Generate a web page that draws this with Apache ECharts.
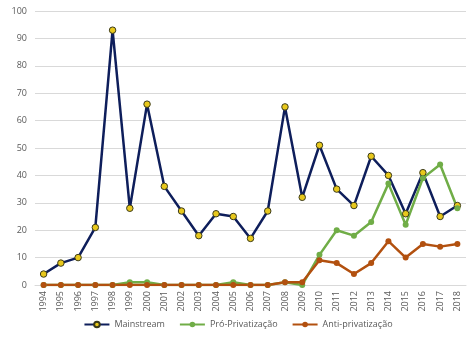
<!DOCTYPE html>
<html><head><meta charset="utf-8">
<script src="https://cdn.jsdelivr.net/npm/echarts@6/dist/echarts.min.js"></script>
<style>html,body{margin:0;padding:0;background:#fff}#c{width:476px;height:338px}</style>
</head><body><div id="c"></div>
<script>
var years = ['1994','1995','1996','1997','1998','1999','2000','2001','2002','2003','2004','2005','2006','2007','2008','2009','2010','2011','2012','2013','2014','2015','2016','2017','2018'];
var mainstream = [4,8,10,21,93,28,66,36,27,18,26,25,17,27,65,32,51,35,29,47,40,26,41,25,29];
var proPriv = [0,0,0,0,0,1,1,0,0,0,0,1,0,0,1,0,11,20,18,23,37,22,39,44,28];
var antiPriv = [0,0,0,0,0,0,0,0,0,0,0,0,0,0,1,1,9,8,4,8,16,10,15,14,15];
var seriesNames = ['Mainstream','Pró-Privatização','Anti-privatização'];

var chart = echarts.init(document.getElementById('c'));
var font = '"Open Sans", Calibri, sans-serif';
chart.setOption({
  animation: false,
  textStyle: {fontFamily: font},
  grid: {left: 35, right: 10, top: 11, bottom: 53},
  legend: {
    bottom: 4, left: 'center', itemGap: 14, itemWidth: 25, itemHeight: 7,
    textStyle: {color: '#595959', fontSize: 9, fontFamily: font},
    data: seriesNames
  },
  xAxis: {
    type: 'category', data: years, boundaryGap: true,
    axisLine: {lineStyle: {color: '#d9d9d9'}},
    axisTick: {show: false},
    axisLabel: {rotate: 90, color: '#595959', fontSize: 9, margin: 6, interval: 0}
  },
  yAxis: {
    type: 'value', min: 0, max: 100, interval: 10,
    axisLine: {show: false}, axisTick: {show: false},
    axisLabel: {color: '#595959', fontSize: 9, margin: 8},
    splitLine: {lineStyle: {color: '#d9d9d9'}}
  },
  series: [
    {name: seriesNames[0], type: 'line', data: mainstream, symbol: 'circle', symbolSize: 6.5,
     lineStyle: {color: '#0e1e5b', width: 2.5}, itemStyle: {color: '#e8c81c', borderColor: '#3a3a1a', borderWidth: 1}},
    {name: seriesNames[1], type: 'line', data: proPriv, symbol: 'circle', symbolSize: 6,
     lineStyle: {color: '#70ad47', width: 2.5}, itemStyle: {color: '#70ad47'}},
    {name: seriesNames[2], type: 'line', data: antiPriv, symbol: 'circle', symbolSize: 6,
     lineStyle: {color: '#b2500f', width: 2.5}, itemStyle: {color: '#b2500f'}}
  ]
});
</script></body></html>
